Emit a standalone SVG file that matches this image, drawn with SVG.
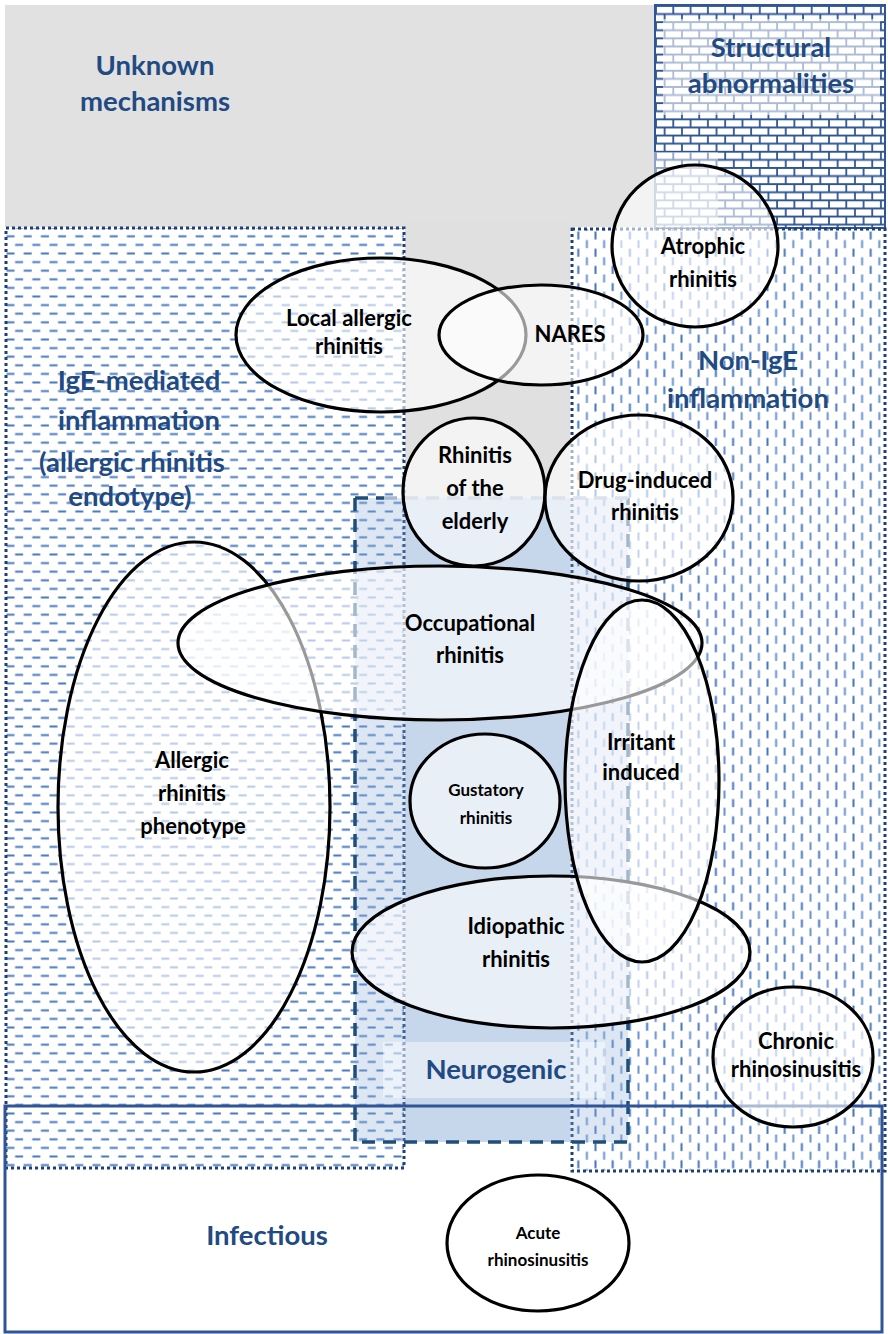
<svg xmlns="http://www.w3.org/2000/svg" width="888" height="1334" viewBox="0 0 888 1334">
<style>
.cat{font-family:Lato,"Open Sans","Liberation Sans",sans-serif;font-weight:bold;font-size:27.5px;fill:#224a82;text-anchor:middle}
.lbl{font-family:Lato,"Open Sans","Liberation Sans",sans-serif;font-weight:bold;font-size:22px;fill:#000;text-anchor:middle}
.sm{font-size:17px}
.ell{fill:#fff;fill-opacity:0.6;stroke:#000;stroke-width:3.2}
.dot{fill:none;stroke:#203f78;stroke-width:3;stroke-dasharray:3 3}
.tb{fill:#fff;fill-opacity:0.45}
</style>
<defs>
<pattern id="horiz" width="17.2" height="17.2" patternUnits="userSpaceOnUse" x="6" y="232">
<rect width="17.2" height="17.2" fill="#fff"/>
<line x1="0.5" y1="4.3" x2="8.5" y2="4.3" stroke="#4a7cc4" stroke-width="2"/>
<line x1="9.1" y1="12.9" x2="17.1" y2="12.9" stroke="#4a7cc4" stroke-width="2"/>
</pattern>
<pattern id="vert" width="17.2" height="17.2" patternUnits="userSpaceOnUse" x="574" y="231">
<rect width="17.2" height="17.2" fill="#fff"/>
<line x1="4.3" y1="0.5" x2="4.3" y2="8.5" stroke="#4577c1" stroke-width="2"/>
<line x1="12.9" y1="9.1" x2="12.9" y2="17.1" stroke="#6a93cf" stroke-width="2"/>
</pattern>
<pattern id="brick" width="17.3" height="16.2" patternUnits="userSpaceOnUse" x="655" y="5">
<rect width="17.3" height="16.2" fill="#fff"/>
<path d="M0 0.9H17.3M0 9H17.3M1 0V9M9.65 9V16.2" stroke="#2f5597" stroke-width="1.8" fill="none"/>
</pattern>
</defs>
<rect width="888" height="1334" fill="#fff"/>
<g id="unknown-mechanisms">
<rect x="5" y="5" width="650" height="222" fill="#e1e1e1"/>
<rect x="405" y="222" width="165" height="276" fill="#e0e0e0"/>
<rect x="405" y="498" width="165" height="644" fill="#e0e9f3"/>
</g>
<g id="structural-abnormalities">
<rect x="655" y="5" width="230" height="223" fill="url(#brick)" stroke="#2f5597" stroke-width="2"/>
<rect x="663" y="19" width="217" height="96" class="tb" style="fill-opacity:0.6"/>
<rect x="654" y="152" width="64" height="76" class="tb"/>
</g>
<g id="ige-mediated">
<rect x="6" y="228" width="398" height="940" fill="url(#horiz)"/>
<rect x="6" y="228" width="398" height="940" class="dot"/>
</g>
<g id="non-ige">
<rect x="572" y="229" width="313" height="942" fill="url(#vert)"/>
<rect x="572" y="229" width="313" height="942" class="dot"/>
</g>
<g id="neurogenic">
<rect x="355" y="498" width="273" height="644" fill="#8fb0dc" fill-opacity="0.3"/>
<path d="M355 498V1142H628V498" fill="none" stroke="#1f4e79" stroke-width="3.5" stroke-dasharray="13 8"/>
<path d="M355 498H384" fill="none" stroke="#1f4e79" stroke-width="3.5" stroke-dasharray="13 8"/>
<path d="M384 498H628" fill="none" stroke="#a6b7cf" stroke-width="3.5" stroke-dasharray="13 8"/>
<rect x="383" y="1042" width="222" height="56" class="tb"/>
</g>
<g id="infectious">
<rect x="5" y="1106" width="877" height="226" fill="none" stroke="#2f5597" stroke-width="3"/>
</g>
<g id="allergic-rhinitis-phenotype"><ellipse cx="194" cy="807" rx="136" ry="265" class="ell"/></g>
<g id="occupational-rhinitis"><ellipse cx="440" cy="643" rx="262" ry="77" class="ell"/></g>
<g id="idiopathic-rhinitis"><ellipse cx="551" cy="952" rx="199" ry="76" class="ell"/></g>
<g id="irritant-induced"><ellipse cx="642" cy="781" rx="77" ry="181" class="ell"/></g>
<g id="gustatory-rhinitis"><ellipse cx="485" cy="801" rx="75" ry="67" class="ell"/></g>
<g id="rhinitis-elderly"><ellipse cx="474" cy="492" rx="71" ry="74" class="ell"/></g>
<g id="drug-induced"><ellipse cx="639" cy="498" rx="94" ry="83" class="ell"/></g>
<g id="local-allergic"><ellipse cx="381" cy="335" rx="145" ry="77" class="ell"/></g>
<g id="nares"><ellipse cx="541" cy="335" rx="102" ry="50" class="ell"/></g>
<g id="atrophic"><ellipse cx="695" cy="246" rx="83" ry="81" class="ell"/></g>
<g id="chronic-rhinosinusitis"><ellipse cx="793" cy="1057" rx="80" ry="70" class="ell"/></g>
<g id="acute-rhinosinusitis"><ellipse cx="538" cy="1243" rx="91" ry="68" class="ell"/></g>
<g id="labels">
<text class="cat" x="155" y="75">Unknown</text>
<text class="cat" x="155" y="111">mechanisms</text>
<text class="cat" x="771" y="57">Structural</text>
<text class="cat" x="771" y="93">abnormalities</text>
<text class="cat" x="139" y="390">IgE-mediated</text>
<text class="cat" x="139" y="430">inflammation</text>
<text class="cat" x="132" y="472">(allergic rhinitis</text>
<text class="cat" x="130" y="506">endotype)</text>
<text class="cat" x="748" y="370">Non-IgE</text>
<text class="cat" x="748" y="408">inflammation</text>
<text class="cat" x="496" y="1079">Neurogenic</text>
<text class="cat" x="267" y="1245">Infectious</text>
<text class="lbl" x="703" y="254">Atrophic</text>
<text class="lbl" x="703" y="287">rhinitis</text>
<text class="lbl" x="349" y="326">Local allergic</text>
<text class="lbl" x="349" y="354">rhinitis</text>
<text class="lbl" x="570" y="342">NARES</text>
<text class="lbl" x="475" y="463">Rhinitis</text>
<text class="lbl" x="475" y="496">of the</text>
<text class="lbl" x="475" y="529">elderly</text>
<text class="lbl" x="645" y="488">Drug-induced</text>
<text class="lbl" x="645" y="520">rhinitis</text>
<text class="lbl" x="470" y="631">Occupational</text>
<text class="lbl" x="470" y="663">rhinitis</text>
<text class="lbl" x="192" y="768">Allergic</text>
<text class="lbl" x="192" y="801">rhinitis</text>
<text class="lbl" x="193" y="834">phenotype</text>
<text class="lbl" x="641" y="750">Irritant</text>
<text class="lbl" x="641" y="780">induced</text>
<text class="lbl sm" x="486" y="796">Gustatory</text>
<text class="lbl sm" x="486" y="824">rhinitis</text>
<text class="lbl" x="516" y="934">Idiopathic</text>
<text class="lbl" x="516" y="967">rhinitis</text>
<text class="lbl" x="796" y="1049">Chronic</text>
<text class="lbl" x="796" y="1077">rhinosinusitis</text>
<text class="lbl sm" x="538" y="1239">Acute</text>
<text class="lbl sm" x="538" y="1266">rhinosinusitis</text>
</g>
</svg>
